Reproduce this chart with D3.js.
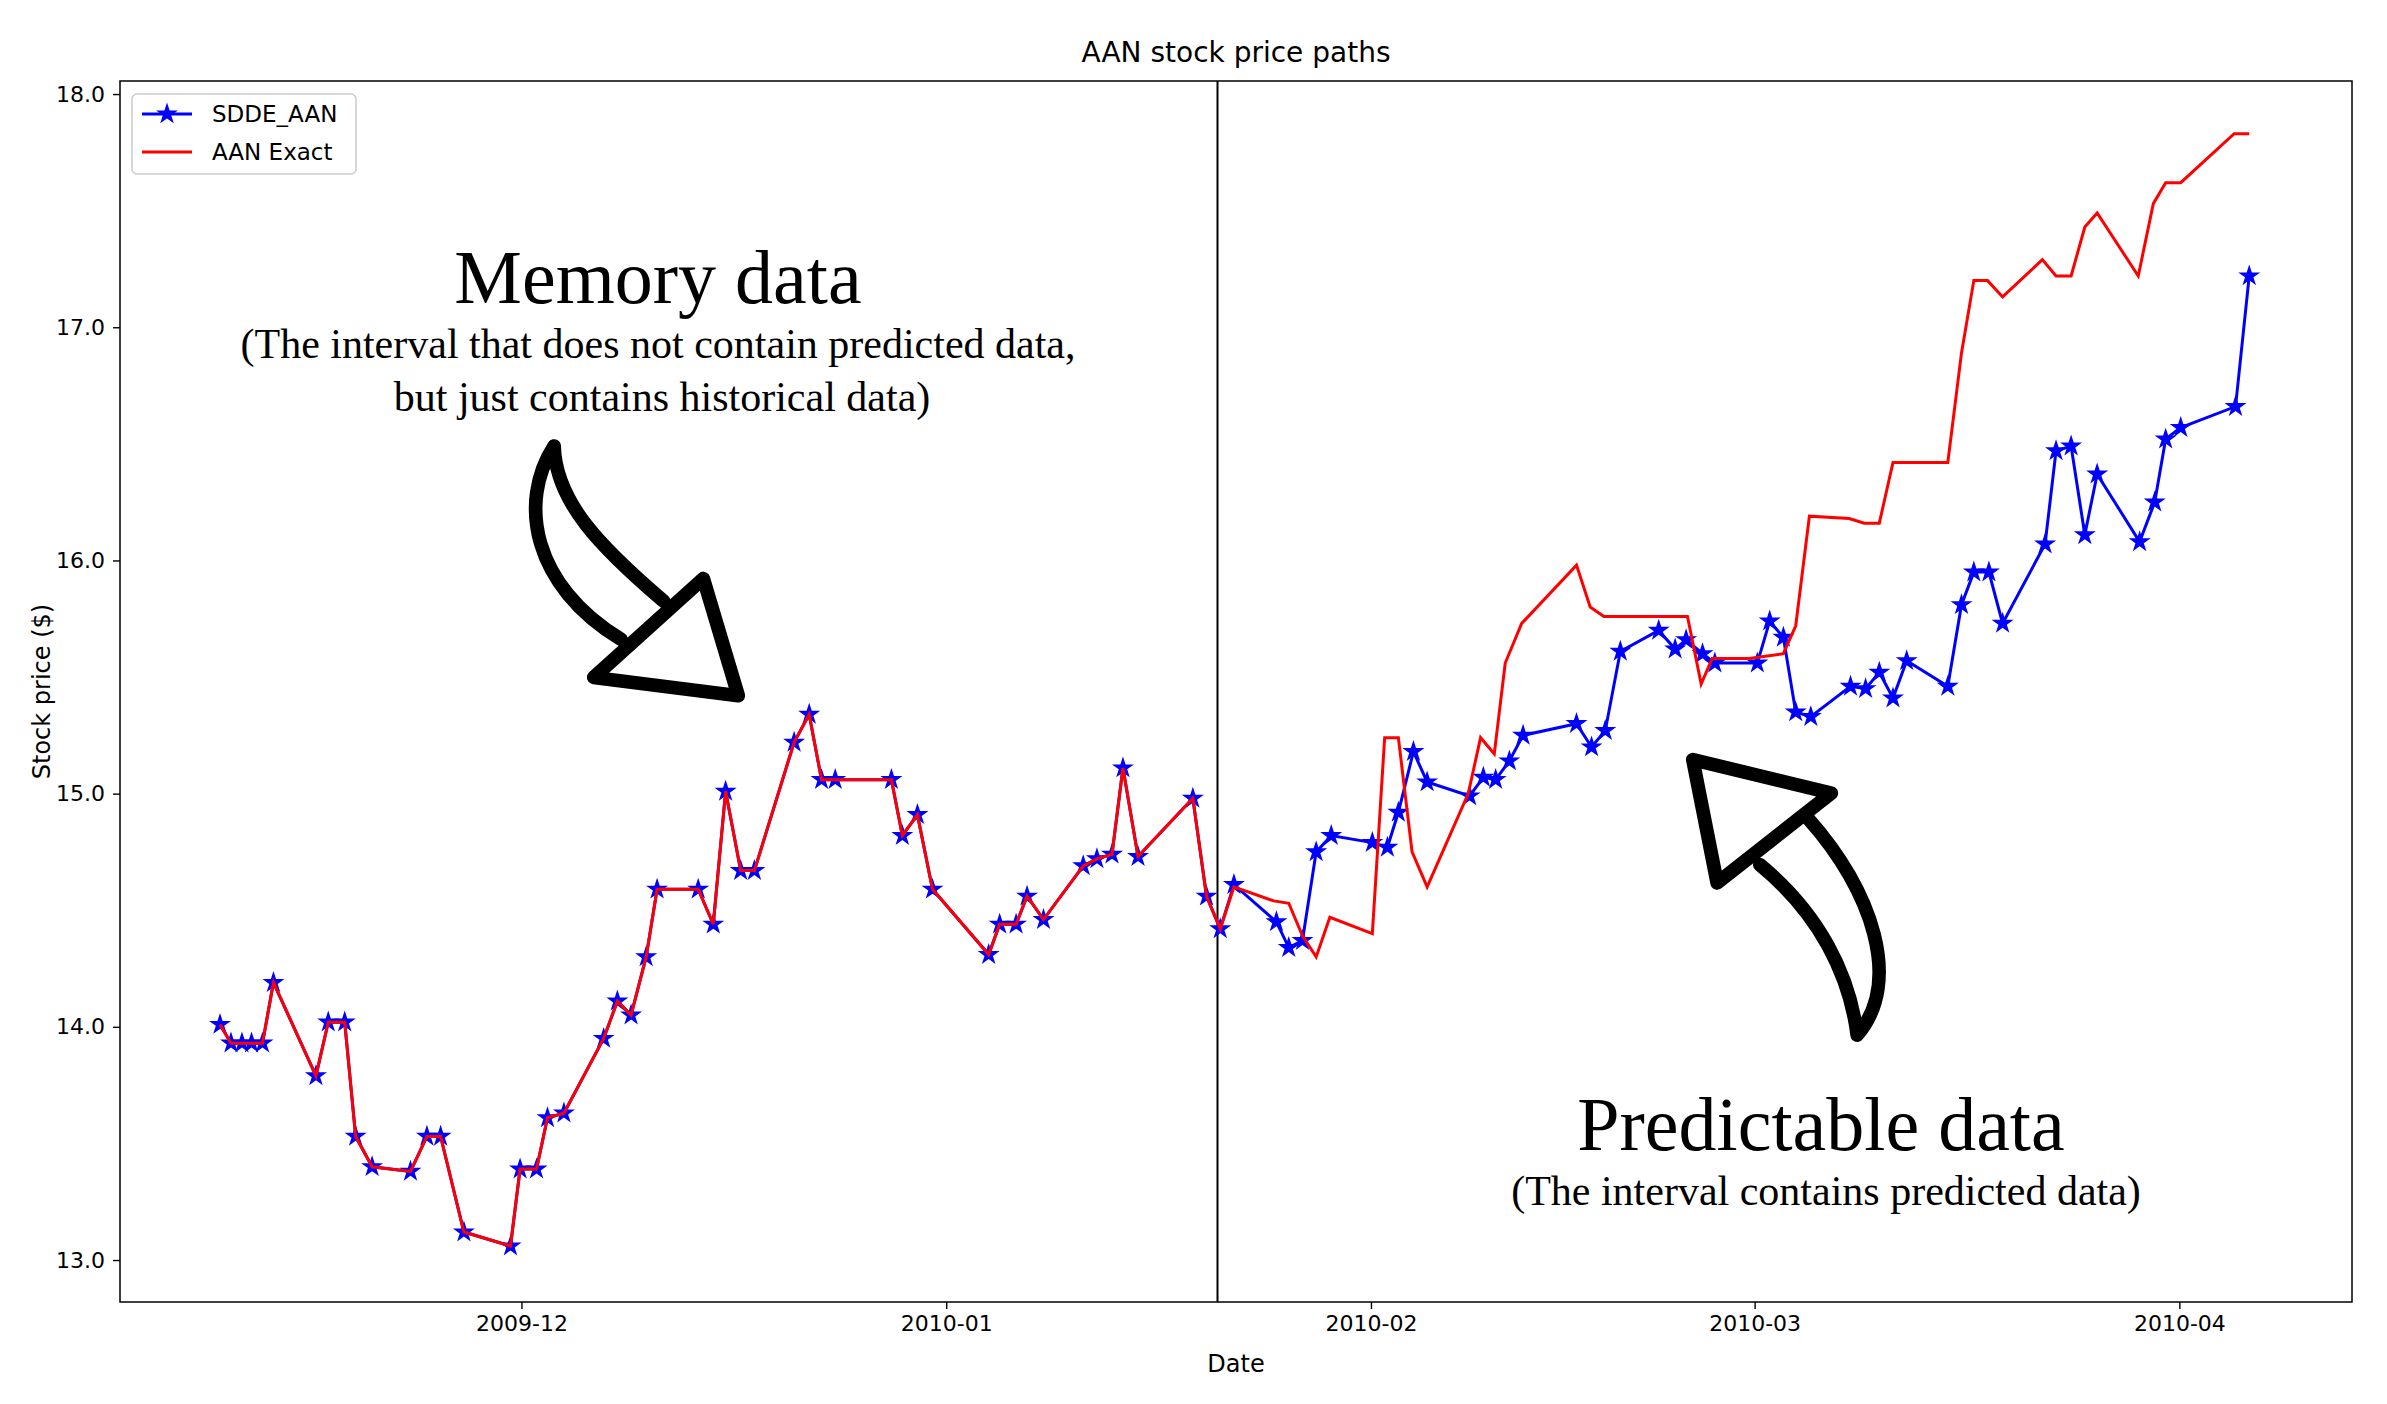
<!DOCTYPE html>
<html>
<head>
<meta charset="utf-8">
<script src="https://cdn.jsdelivr.net/npm/d3@7"></script>
<style>
  body { margin: 0; background: #fff; }
  text { font-family: 'DejaVu Sans', sans-serif; }
</style>
</head>
<body>
<div id="draw"></div>
<script>
// days counted from 2009-12-01
const memDays = [-22.0, -21.2, -20.4, -19.7, -18.9, -18.1, -15.0, -14.1, -12.9, -12.1, -10.9, -8.1, -6.9, -5.9, -4.2, -0.8, -0.1, 1.1, 1.9, 3.1, 6.0, 7.0, 8.0, 9.1, 9.9, 12.9, 14.0, 14.9, 16.0, 17.0, 19.9, 21.0, 21.9, 22.9, 27.0, 27.8, 28.9, 30.0, 34.1, 34.9, 36.1, 36.9, 38.1, 41.0, 42.0, 43.1, 43.9, 45.0, 49.0, 50.0, 51.0];
const memVals = [14.01, 13.93, 13.93, 13.93, 13.93, 14.19, 13.79, 14.02, 14.02, 13.53, 13.40, 13.38, 13.53, 13.53, 13.12, 13.06, 13.39, 13.39, 13.61, 13.63, 13.95, 14.11, 14.05, 14.30, 14.59, 14.59, 14.44, 15.01, 14.67, 14.67, 15.22, 15.34, 15.06, 15.06, 15.06, 14.82, 14.91, 14.59, 14.31, 14.44, 14.44, 14.56, 14.46, 14.69, 14.72, 14.74, 15.11, 14.73, 14.98, 14.56, 14.42];

const sddeDays = [52.0, 55.1, 56.0, 57.0, 58.0, 59.1, 62.1, 63.2, 64.0, 65.1, 66.1, 69.2, 70.2, 71.1, 72.1, 73.1, 77.0, 78.1, 79.1, 80.2, 83.0, 84.2, 85.0, 86.2, 87.1, 90.2, 91.1, 92.1, 93.0, 94.1, 97.0, 98.1, 99.1, 100.1, 101.1, 104.1, 105.1, 106.0, 107.1, 108.1, 111.2, 112.0, 113.1, 114.1, 115.0, 118.1, 119.2, 120.0, 121.1, 125.1, 126.1];
const sddeVals = [14.61, 14.45, 14.34, 14.37, 14.75, 14.82, 14.79, 14.77, 14.92, 15.18, 15.05, 14.99, 15.07, 15.06, 15.14, 15.25, 15.30, 15.20, 15.27, 15.61, 15.70, 15.62, 15.66, 15.60, 15.56, 15.56, 15.74, 15.67, 15.35, 15.33, 15.46, 15.45, 15.52, 15.41, 15.57, 15.46, 15.81, 15.95, 15.95, 15.73, 16.07, 16.47, 16.49, 16.11, 16.37, 16.08, 16.25, 16.52, 16.57, 16.66, 17.22];

const exactDays = [52.0, 54.9, 56.0, 57.0, 58.0, 59.0, 62.1, 63.0, 64.0, 65.0, 66.1, 69.1, 70.0, 71.0, 71.8, 73.0, 77.0, 78.0, 79.0, 85.1, 86.1, 86.9, 89.6, 92.1, 93.0, 94.0, 96.9, 98.0, 99.1, 100.1, 104.1, 105.1, 106.0, 107.0, 108.1, 111.0, 112.0, 113.1, 114.1, 115.0, 118.0, 119.1, 120.0, 121.1, 125.0, 126.1];
const exactVals = [14.60, 14.54, 14.53, 14.39, 14.30, 14.47, 14.40, 15.24, 15.24, 14.75, 14.60, 15.00, 15.24, 15.17, 15.56, 15.73, 15.98, 15.80, 15.76, 15.76, 15.47, 15.58, 15.58, 15.60, 15.72, 16.19, 16.18, 16.16, 16.16, 16.42, 16.42, 16.89, 17.20, 17.20, 17.13, 17.29, 17.22, 17.22, 17.43, 17.49, 17.22, 17.53, 17.62, 17.62, 17.83, 17.83];

const splitDay = 50.8;
const yTicks = [13, 14, 15, 16, 17, 18];
const xTicks = ['2009-12-01', '2010-01-01', '2010-02-01', '2010-03-01', '2010-04-01'];
const xTickLabels = ['2009-12', '2010-01', '2010-02', '2010-03', '2010-04'];

const base = new Date(2009, 11, 1);
const toDate = (d) => new Date(base.getTime() + d * 864e5);

var W = 2387, H = 1404;
var mLeft = 120, mRight = 2352, mTop = 81, mBottom = 1302;

var svg = d3.select('#draw').append('svg').attr('width', W).attr('height', H);

var x = d3.scaleTime().domain([toDate(-29.3), toDate(133.6)]).range([mLeft, mRight]);
var y = d3.scaleLinear().domain([12.82, 18.056]).range([mBottom, mTop]);

// memory part is shared by both series
var sdde = memDays.map((d, i) => ({ d: d, v: memVals[i] }))
	.concat(sddeDays.map((d, i) => ({ d: d, v: sddeVals[i] })));
var exact = memDays.map((d, i) => ({ d: d, v: memVals[i] }))
	.concat(exactDays.map((d, i) => ({ d: d, v: exactVals[i] })));

var line = d3.line().x((p) => x(toDate(p.d))).y((p) => y(p.v));

// axes
var xAxis = d3.axisBottom(x)
	.tickValues(xTicks.map((s) => new Date(s + 'T00:00:00')))
	.tickFormat((d, i) => xTickLabels[i]).tickSize(7).tickPadding(6);
var gx = svg.append('g').attr('transform', 'translate(0,' + mBottom + ')').call(xAxis);
var yAxis = d3.axisLeft(y).tickValues(yTicks).tickSize(7).tickPadding(8);
var gy = svg.append('g').attr('transform', 'translate(' + mLeft + ',0)').call(yAxis);
[gx, gy].forEach((g) => {
	g.select('.domain').remove();
	g.selectAll('text').style('font-size', '22px').style('font-family', 'DejaVu Sans').attr('fill', '#000');
	g.selectAll('line').attr('stroke', '#000').attr('stroke-width', 1.4);
});

svg.append('rect').attr('x', mLeft).attr('y', mTop)
	.attr('width', mRight - mLeft).attr('height', mBottom - mTop)
	.attr('fill', 'none').attr('stroke', '#000').attr('stroke-width', 1.5);

svg.append('text').attr('x', (mLeft + mRight) / 2).attr('y', 62)
	.attr('text-anchor', 'middle').style('font-size', '28px').text('AAN stock price paths');
svg.append('text').attr('x', (mLeft + mRight) / 2).attr('y', 1372)
	.attr('text-anchor', 'middle').style('font-size', '24px').text('Date');
svg.append('text').attr('transform', 'translate(50,' + (mTop + mBottom) / 2 + ') rotate(-90)')
	.attr('text-anchor', 'middle').style('font-size', '24px').text('Stock price ($)');

// split line
svg.append('line').attr('x1', x(toDate(splitDay))).attr('x2', x(toDate(splitDay)))
	.attr('y1', mTop).attr('y2', mBottom).attr('stroke', '#000').attr('stroke-width', 2);

// series
var star = d3.symbol().type(d3.symbolStar).size(150);
svg.append('path').datum(sdde).attr('d', line)
	.attr('fill', 'none').attr('stroke', '#0000ff').attr('stroke-width', 3);
svg.selectAll('.st').data(sdde).enter().append('path').attr('class', 'st')
	.attr('d', star).attr('transform', (p) => 'translate(' + x(toDate(p.d)) + ',' + y(p.v) + ')')
	.attr('fill', '#0000ff');
svg.append('path').datum(exact).attr('d', line)
	.attr('fill', 'none').attr('stroke', '#ff0000').attr('stroke-width', 3);

// legend
var lg = svg.append('g').attr('transform', 'translate(132,94)');
lg.append('rect').attr('width', 224).attr('height', 80).attr('rx', 5)
	.attr('fill', '#fff').attr('stroke', '#ccc').attr('stroke-width', 1.5);
lg.append('line').attr('x1', 10).attr('x2', 60).attr('y1', 20).attr('y2', 20).attr('stroke', '#0000ff').attr('stroke-width', 3);
lg.append('path').attr('d', star).attr('transform', 'translate(35,20)').attr('fill', '#0000ff');
lg.append('text').attr('x', 80).attr('y', 28).style('font-size', '23px').text('SDDE_AAN');
lg.append('line').attr('x1', 10).attr('x2', 60).attr('y1', 58).attr('y2', 58).attr('stroke', '#ff0000').attr('stroke-width', 3);
lg.append('text').attr('x', 80).attr('y', 66).style('font-size', '23px').text('AAN Exact');

// annotations
var serif = "'Liberation Serif', 'DejaVu Serif', serif";
svg.append('text').attr('x', 658).attr('y', 303).attr('text-anchor', 'middle')
	.style('font-family', serif).style('font-size', '76px').text('Memory data');
svg.append('text').attr('x', 658).attr('y', 358).attr('text-anchor', 'middle')
	.style('font-family', serif).style('font-size', '42px')
	.text('(The interval that does not contain predicted data,');
svg.append('text').attr('x', 662).attr('y', 411).attr('text-anchor', 'middle')
	.style('font-family', serif).style('font-size', '42px')
	.text('but just contains historical data)');
svg.append('text').attr('x', 1821).attr('y', 1150).attr('text-anchor', 'middle')
	.style('font-family', serif).style('font-size', '76px').text('Predictable data');
svg.append('text').attr('x', 1826).attr('y', 1205).attr('text-anchor', 'middle')
	.style('font-family', serif).style('font-size', '42px')
	.text('(The interval contains predicted data)');

// hand drawn arrows (display-unit coords scaled up)
var ar = svg.append('g').attr('transform', 'scale(1.5223)')
	.attr('fill', 'none').attr('stroke', '#000').attr('stroke-width', 9)
	.attr('stroke-linejoin', 'round').attr('stroke-linecap', 'round');
ar.append('path').attr('d', 'M364,293 C340,330 350,385 408,420 M364,293 C365,330 395,360 436,395');
ar.append('path').attr('d', 'M390,445 L462,380 L485,457 Z');
ar.append('path').attr('d', 'M1112,499 L1203,521 L1128,580 Z');
ar.append('path').attr('d', 'M1188,538 C1230,585 1250,645 1220,680 M1156,568 C1195,600 1215,640 1220,680');
</script>
</body>
</html>
